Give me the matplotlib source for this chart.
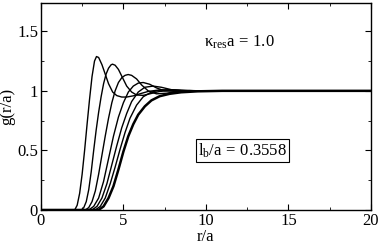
import matplotlib
matplotlib.use('Agg')
import matplotlib.pyplot as plt
from matplotlib.ticker import MultipleLocator

plt.rcParams['font.family'] = ['Liberation Serif', 'DejaVu Serif']
plt.rcParams['mathtext.fontset'] = 'custom'
plt.rcParams['mathtext.rm'] = 'Liberation Serif'
plt.rcParams['mathtext.it'] = 'Liberation Serif'

# g(r/a) curves, left to right
r1 = [0, 2.05, 2.2, 2.35, 2.5, 2.65, 2.8, 2.95, 3.1, 3.25, 3.37, 3.5, 3.7, 3.9, 4.1,
      4.35, 4.6, 4.9, 5.2, 5.6, 6.0, 6.5, 7.2, 8, 9, 10, 20]
g1 = [0, 0, 0.04, 0.14, 0.3, 0.5, 0.72, 0.93, 1.12, 1.25, 1.288, 1.28, 1.22, 1.14, 1.06,
      0.99, 0.96, 0.948, 0.948, 0.958, 0.975, 0.995, 1.008, 1.005, 1.0, 1.0, 1.0]

r2 = [0, 2.45, 2.6, 2.75, 2.9, 3.05, 3.2, 3.35, 3.5, 3.65, 3.8, 3.95, 4.1, 4.25, 4.34,
      4.5, 4.7, 4.95, 5.2, 5.5, 5.8, 6.2, 6.6, 7.2, 8, 9, 10, 20]
g2 = [0, 0, 0.02, 0.07, 0.17, 0.32, 0.5, 0.67, 0.82, 0.95, 1.06, 1.14, 1.19, 1.218, 1.224,
      1.215, 1.18, 1.11, 1.04, 0.99, 0.965, 0.962, 0.975, 0.995, 1.005, 1.002, 1.0, 1.0]

r3 = [0, 2.7, 2.9, 3.1, 3.3, 3.5, 3.7, 3.9, 4.1, 4.3, 4.5, 4.7, 4.9, 5.1, 5.29, 5.5,
      5.8, 6.1, 6.5, 7.0, 7.6, 8.3, 9, 10, 20]
g3 = [0, 0, 0.02, 0.07, 0.16, 0.3, 0.46, 0.62, 0.77, 0.9, 1.0, 1.07, 1.11, 1.13, 1.137, 1.13,
      1.1, 1.05, 1.0, 0.975, 0.98, 0.995, 1.002, 1.0, 1.0]

r4 = [0, 2.9, 3.2, 3.5, 3.8, 4.1, 4.4, 4.7, 5.0, 5.3, 5.6, 5.9, 6.2, 6.6, 7.0, 7.5,
      8.2, 9, 10, 20]
g4 = [0, 0, 0.03, 0.1, 0.24, 0.43, 0.62, 0.78, 0.9, 0.99, 1.04, 1.065, 1.07, 1.055, 1.025, 1.0,
      0.995, 1.0, 1.0, 1.0]

r5 = [0, 3.1, 3.4, 3.7, 4.0, 4.3, 4.6, 4.9, 5.2, 5.5, 5.9, 6.3, 6.8, 7.3, 7.9, 8.6,
      9.5, 11, 20]
g5 = [0, 0, 0.03, 0.1, 0.22, 0.38, 0.54, 0.69, 0.81, 0.91, 0.99, 1.03, 1.04, 1.03, 1.01, 1.0,
      1.0, 1.0, 1.0]

r6 = [0, 3.3, 3.6, 3.9, 4.2, 4.5, 4.8, 5.1, 5.4, 5.8, 6.2, 6.7, 7.2, 7.8, 8.5, 9.5, 11, 20]
g6 = [0, 0, 0.03, 0.1, 0.22, 0.36, 0.51, 0.65, 0.77, 0.88, 0.95, 0.99, 1.005, 1.01, 1.005,
      1.0, 1.0, 1.0]

r7 = [0, 3.5, 3.8, 4.1, 4.4, 4.7, 5.0, 5.3, 5.6, 5.9, 6.3, 6.7, 7.2, 7.8, 8.5, 9.5, 11, 20]
g7 = [0, 0, 0.03, 0.1, 0.2, 0.34, 0.49, 0.62, 0.72, 0.8, 0.87, 0.92, 0.955, 0.975, 0.988,
      0.996, 1.0, 1.0]

curves = [(r1, g1), (r2, g2), (r3, g3), (r4, g4), (r5, g5), (r6, g6), (r7, g7)]

fig = plt.figure(figsize=(3.82, 2.45), dpi=100)
ax = fig.add_axes([0.107, 0.143, 0.864, 0.846])

for i, (r, g) in enumerate(curves):
    lw = 1.8 if i == len(curves) - 1 else 1.0
    ax.plot(r, g, color='black', lw=lw, solid_joinstyle='round')

ax.set_xlim(0, 20)
ax.set_ylim(0, 1.74)
ax.xaxis.set_major_locator(MultipleLocator(5))
ax.xaxis.set_minor_locator(MultipleLocator(2.5))
ax.yaxis.set_major_locator(MultipleLocator(0.5))
ax.yaxis.set_minor_locator(MultipleLocator(0.25))
ax.set_yticks([0, 0.5, 1, 1.5])
ax.set_yticklabels(['0', '0.5', '1', '1.5'])
ax.tick_params(which='both', direction='in', top=True, right=True, labelsize=12, pad=2)
ax.tick_params(which='major', length=4)
ax.tick_params(which='minor', length=2)
for s in ax.spines.values():
    s.set_linewidth(1.0)

ax.set_xlabel('r/a', fontsize=12, labelpad=0)
ax.set_ylabel('g(r/a)', fontsize=12, labelpad=1)

ax.text(9.9, 1.41, r'$\kappa_{\mathrm{res}}\mathrm{a}\,=\,1.0$', fontsize=12, va='center')
ax.text(9.55, 0.5, r'$\mathrm{l_b/a\,=\,0.3558}$', fontsize=12, va='center',
        bbox=dict(boxstyle='square,pad=0.12', fc='white', ec='black', lw=0.8))

fig.savefig('out.png', dpi=100)
